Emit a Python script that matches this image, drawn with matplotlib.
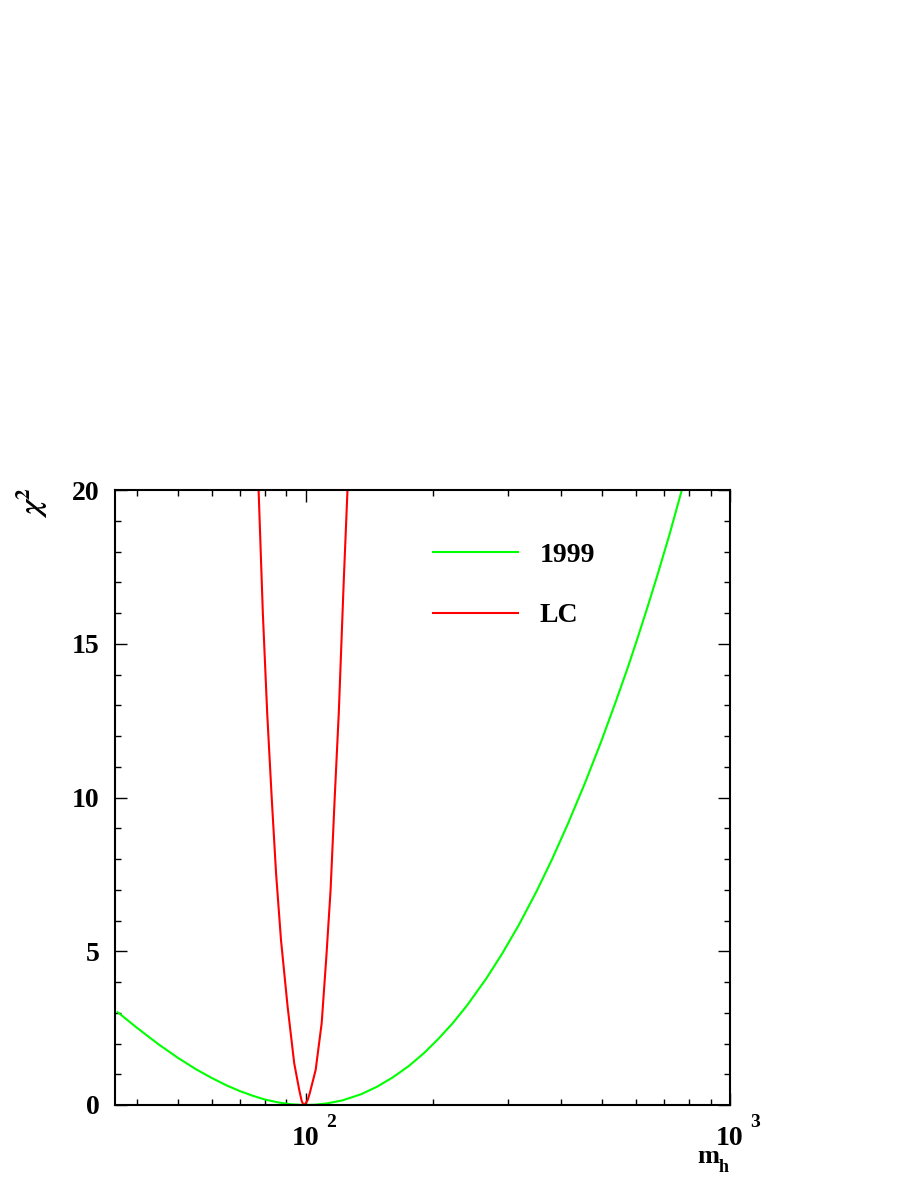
import matplotlib
matplotlib.use("Agg")
import matplotlib.pyplot as plt
from matplotlib.ticker import LogLocator, MultipleLocator, NullFormatter
import matplotlib.transforms as mtransforms

plt.rcParams['font.family'] = ['Liberation Serif', 'DejaVu Serif']
plt.rcParams['font.weight'] = 'bold'
plt.rcParams['mathtext.fontset'] = 'stix'

# ---- data ----
mass_1999 = [36, 40, 45, 50, 55, 60, 65, 70, 75, 80, 86, 92, 99,
             105, 112, 122, 135, 147, 160, 175, 190, 205, 222, 240, 266,
             290, 318, 350, 380, 415, 456, 497, 538, 575, 606, 640, 675,
             720, 770]
chi2_1999 = [3.02, 2.51, 1.97, 1.53, 1.17, 0.88, 0.64, 0.45, 0.30, 0.18, 0.085, 0.026, 0.0,
             0.01, 0.05, 0.15, 0.35, 0.59, 0.89, 1.27, 1.69, 2.14, 2.66, 3.24, 4.10,
             4.91, 5.86, 6.95, 7.97, 9.15, 10.50, 11.82, 13.12, 14.25, 15.20, 16.22, 17.25,
             18.55, 20.0]

mass_lc = [77.4, 79.2, 81.1, 83.1, 85.1, 87.4, 90.6, 93.9, 96.5, 97.8, 98.8,
           99.9, 101.1, 102.2, 105.5, 109.0, 111.8, 114.4, 117.0, 119.6, 122.9, 125.4]
chi2_lc = [20.0, 16.0, 12.74, 10.0, 7.53, 5.37, 3.2, 1.36, 0.49, 0.13, 0.0,
           0.05, 0.17, 0.39, 1.14, 2.66, 4.82, 6.99, 10.0, 12.74, 17.07, 20.0]

series_labels = ['1999', 'LC']
series_colors = ['#00ff00', '#ff0000']

x_major_ticks = [100, 1000]
x_major_base = ['10', '10']
x_major_exp = ['2', '3']
y_ticks = [0, 5, 10, 15, 20]

W, H = 913, 1182
fig = plt.figure(figsize=(W / 100, H / 100), dpi=100)
ax = fig.add_axes([115 / W, 1 - 1105 / H, 615 / W, 615 / H])

ax.plot(mass_1999, chi2_1999, color=series_colors[0], lw=1.5, label=series_labels[0])
ax.plot(mass_lc, chi2_lc, color=series_colors[1], lw=1.5, label=series_labels[1])

ax.set_xscale('log')
ax.set_xlim(35.5, 1000)
ax.set_ylim(0, 20)

ax.xaxis.set_major_locator(LogLocator(base=10, numticks=10))
ax.xaxis.set_minor_locator(LogLocator(base=10, subs=range(2, 10), numticks=20))
ax.xaxis.set_major_formatter(NullFormatter())
ax.xaxis.set_minor_formatter(NullFormatter())
ax.set_yticks(y_ticks)
ax.yaxis.set_minor_locator(MultipleLocator(1))

ax.tick_params(which='both', direction='in', top=True, right=True, width=1.0, color='black')
ax.tick_params(which='major', length=8.5)
ax.tick_params(which='minor', length=4.3)
ax.tick_params(axis='y', which='major', labelsize=20, pad=11)
for lab in ax.get_yticklabels():
    lab.set_fontweight('bold')

for s in ax.spines.values():
    s.set_linewidth(1.5)

# x tick labels 10^n
trans = mtransforms.blended_transform_factory(ax.transData, ax.transAxes)
for xv, b, e in zip(x_major_ticks, x_major_base, x_major_exp):
    ax.annotate(b, xy=(xv, 0), xycoords=trans, xytext=(0, -28.8), textcoords='offset points',
                ha='center', va='baseline', fontsize=20, fontweight='bold', annotation_clip=False)
    ax.annotate(e, xy=(xv, 0), xycoords=trans, xytext=(14.5, -15.5), textcoords='offset points',
                ha='left', va='baseline', fontsize=14, fontweight='bold', annotation_clip=False)

# axis titles
fig.text(697 / W, 1 - 1163 / H, 'm', fontsize=19, fontweight='bold', ha='left', va='baseline')
fig.text(719 / W, 1 - 1172 / H, 'h', fontsize=13, fontweight='bold', ha='left', va='baseline')
fig.text(32 / W, 1 - 503 / H, r'$\chi^{2}$', fontsize=22, rotation=90, ha='center', va='center')

leg = ax.legend(loc='center left', bbox_to_anchor=((433 - 115) / 615, (1105 - 585.5) / 615),
                frameon=False, fontsize=20, handlelength=3.06, handletextpad=0.79,
                labelspacing=1.26, borderpad=0, borderaxespad=0)
for t in leg.get_texts():
    t.set_fontweight('bold')

fig.savefig('out.png', dpi=100)
